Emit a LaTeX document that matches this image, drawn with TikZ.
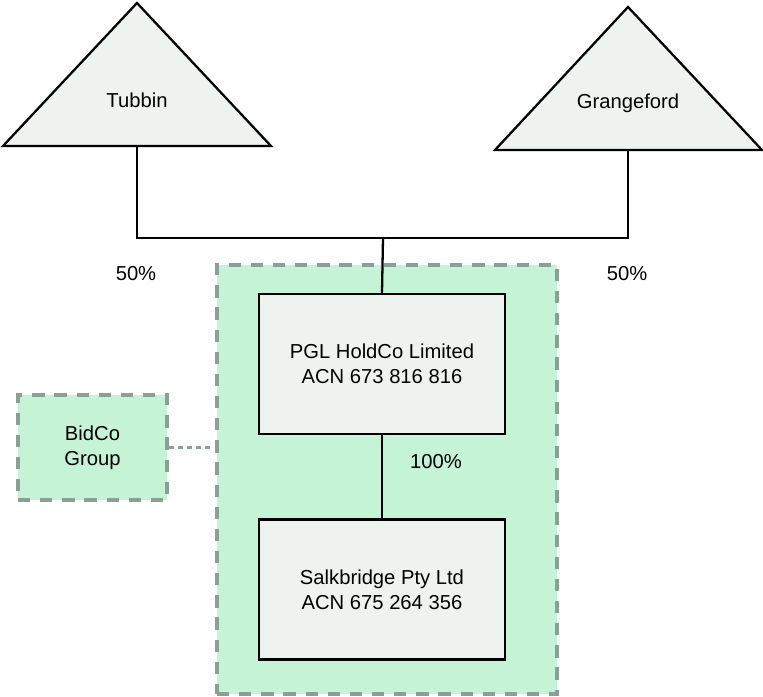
\documentclass[tikz,border=0pt]{standalone}
\usepackage{fontspec}
\setmainfont{Liberation Sans}
\usetikzlibrary{positioning}
\definecolor{BoxClr}{HTML}{EFF3F0}
\definecolor{GroupClr}{HTML}{C4F3D5}
\definecolor{DashClr}{HTML}{8A9F97}

\begin{document}
\begin{tikzpicture}[
  font=\fontsize{11.5}{14.2}\selectfont,
  entity/.style={draw=black,line width=1.3pt,fill=BoxClr,align=center,
    minimum width=4.92cm,minimum height=2.8cm,inner sep=0pt},
  group/.style={draw=DashClr,fill=GroupClr,line width=2.2pt,
    dash pattern=on 7pt off 5.6pt,inner sep=0pt,align=center},
  link/.style={line width=1.3pt,draw=black},
  share/.style={inner sep=0pt}
]
\useasboundingbox (0,0) rectangle (15.26,13.94);

% shaded group around the holding structure
\node[group,minimum width=6.8cm,minimum height=8.58cm] (grp) at (7.74,4.35) {};

% shareholders
\draw[link,fill=BoxClr] (0.06,11.02) -- (2.74,13.88) -- (5.42,11.02) -- cycle;
\node (tubbin) at (2.74,11.94) {Tubbin};
\coordinate (tubbinbase) at (2.74,11.02);

\draw[link,fill=BoxClr] (9.90,10.94) -- (12.56,13.80) -- (15.24,10.94) -- cycle;
\node (grange) at (12.56,11.88) {Grangeford};
\coordinate (grangebase) at (12.56,10.94);

% companies
\node[entity] (pgl) at (7.64,6.66) {PGL HoldCo Limited\\ACN 673 816 816};
\node[entity] (salk) at (7.64,2.15) {Salkbridge Pty Ltd\\ ACN 675 264 356};
\node[group,minimum width=2.98cm,minimum height=2.1cm] (bidco) at (1.85,4.99) {BidCo\\Group};

% ownership lines
\coordinate (joint) at (7.66,9.18);
\draw[link] (tubbinbase) |- (joint) -| (grangebase);
\draw[link] (joint) -- (pgl.north);
\draw[link] (pgl) -- (salk);
\draw[draw=DashClr,line width=2.2pt,dash pattern=on 2.8pt off 2.4pt]
  (bidco.east) -- (bidco.east -| grp.west);

\node[share] (t50) at (2.72,8.46) {50\%};
\node[share] (g50) at (12.54,8.46) {50\%};
\node[share] (p100) at (8.72,4.70) {100\%};

\end{tikzpicture}
\end{document}
